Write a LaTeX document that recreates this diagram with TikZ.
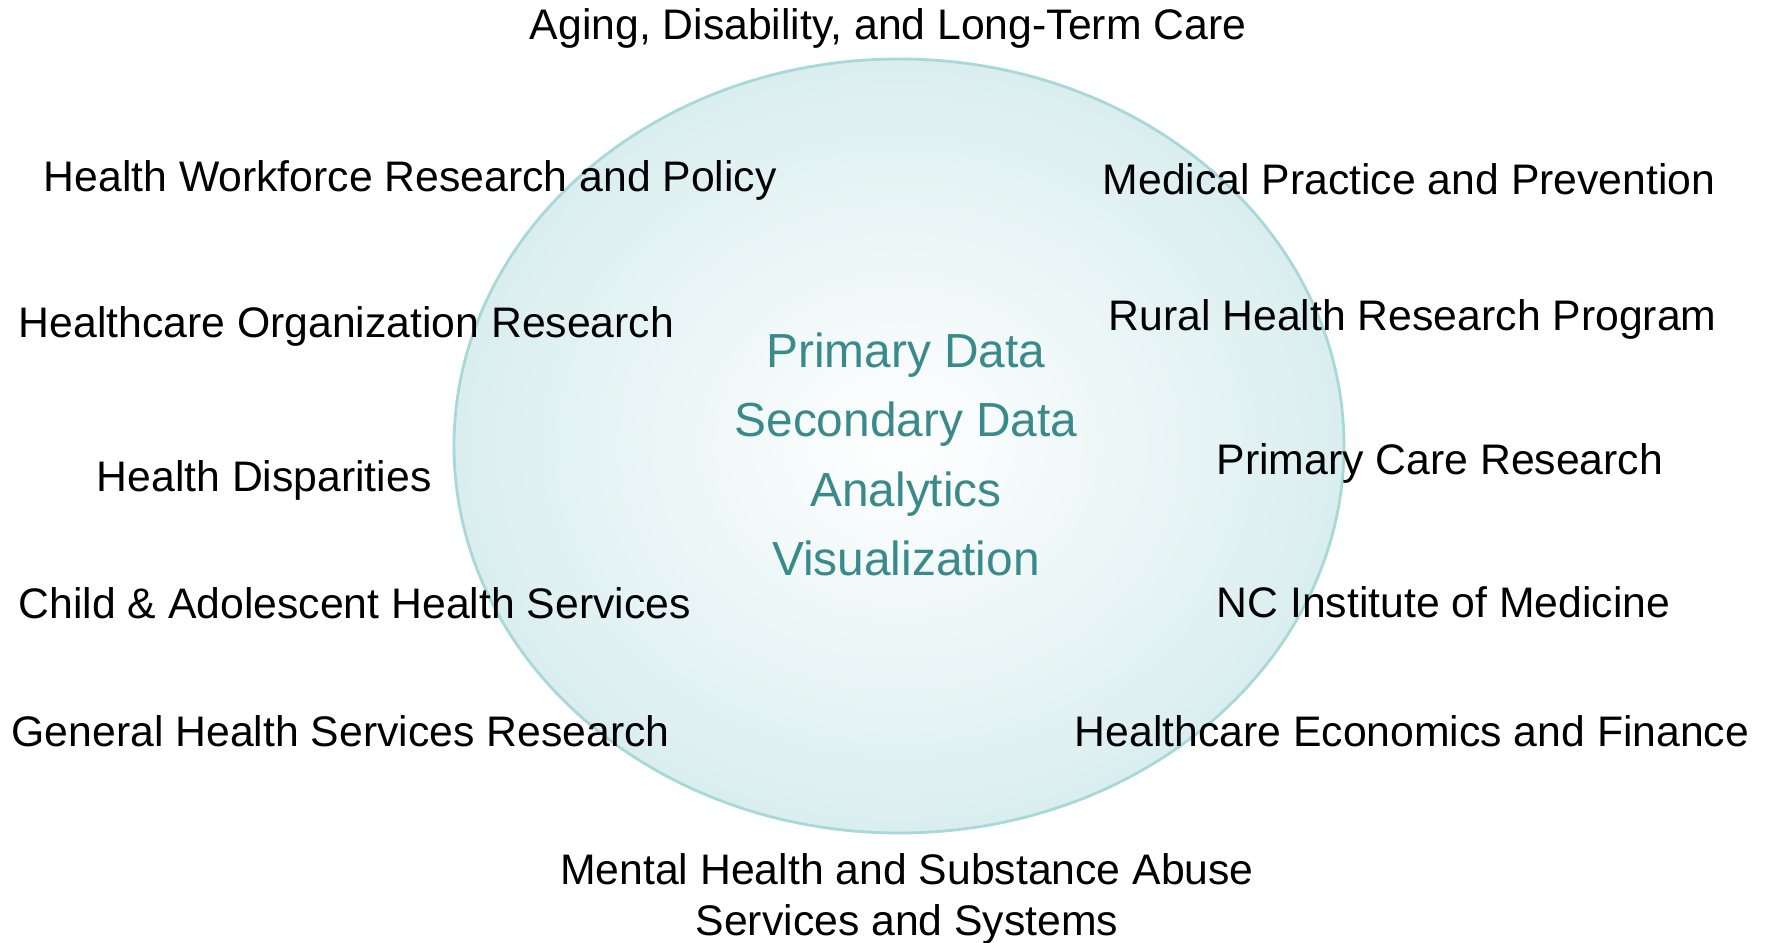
\documentclass[tikz,border=0pt]{standalone}
\usepackage{fontspec}
\setmainfont{Liberation Sans}
\usepackage{tikz}

\definecolor{ringedge}{RGB}{168,216,218}
\definecolor{ringfill}{RGB}{218,238,239}
\definecolor{coretext}{RGB}{58,138,140}

\tikzset{
    program/.style={font=\fontsize{12.15}{14}\selectfont, text=black, inner sep=0pt, anchor=base west},
    core/.style={font=\fontsize{13.6}{19.7}\selectfont, text=coretext, inner sep=0pt, anchor=base}
}

\begin{document}
\begin{tikzpicture}[x=0.01cm, y=-0.01cm]

\useasboundingbox (0,0) rectangle (1767,943);

% the shared data core
\draw[ringedge, line width=0.8pt, inner color=white, outer color=ringfill]
    (899,446) ellipse (445 and 387);

\node[core] (pdata) at (906,367) {Primary Data};
\node[core] (sdata) at (906,436) {Secondary Data};
\node[core] (analytics) at (906,506) {Analytics};
\node[core] (visual) at (906,575) {Visualization};

% programs round the core
\node[program, anchor=base] (aging) at (888,40) {Aging, Disability, and Long-Term Care};

\node[program] (workforce) at (43,192) {Health Workforce Research and Policy};
\node[program] (organization) at (18,338) {Healthcare Organization Research};
\node[program] (disparities) at (96,491) {Health Disparities};
\node[program] (child) at (18,618) {Child \& Adolescent Health Services};
\node[program] (general) at (11,746) {General Health Services Research};

\node[program] (medical) at (1102,195) {Medical Practice and Prevention};
\node[program] (rural) at (1108,331) {Rural Health Research Program};
\node[program] (primary) at (1216,475) {Primary Care Research};
\node[program] (ncim) at (1216,617) {NC Institute of Medicine};
\node[program] (economics) at (1074,746) {Healthcare Economics and Finance};

\node[program, anchor=base] (mental) at (907,884) {Mental Health and Substance Abuse};
\node[program, anchor=base] (systems) at (907,935) {Services and Systems};

\end{tikzpicture}
\end{document}
